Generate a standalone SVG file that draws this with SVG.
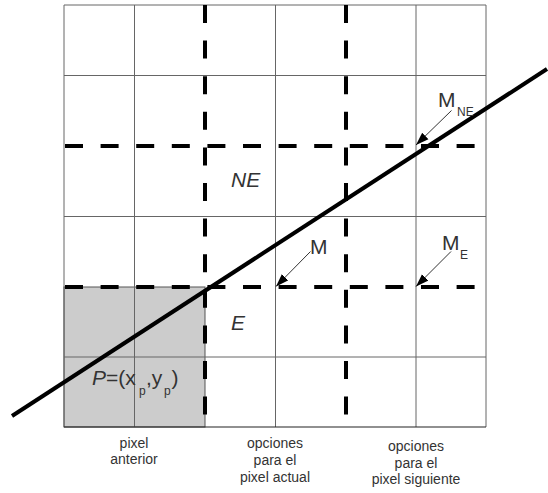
<svg xmlns="http://www.w3.org/2000/svg" width="548" height="493" viewBox="0 0 548 493">
<style>
.grid{stroke:#666;stroke-width:1;fill:none}
.dash{stroke:#000;stroke-width:4;stroke-dasharray:18 17.6;fill:none}
.lbl{font-family:"Liberation Sans",Arial,sans-serif;fill:#333}
.big{font-size:21px}
.sub{font-size:12px}
.cap{font-size:14px;text-anchor:middle}
.arr{stroke:#333;stroke-width:1;fill:none}
</style>
<defs>
<marker id="ah" markerUnits="userSpaceOnUse" markerWidth="14" markerHeight="10" refX="13" refY="5" orient="auto">
<path d="M0,0.5 L13,5 L0,9.5 Z" fill="#000"/>
</marker>
</defs>
<rect width="548" height="493" fill="#fff"/>
<g id="shaded">
<rect x="64" y="287" width="141" height="140" fill="#cccccc" stroke="#555" stroke-width="1"/>
</g>
<g id="grid">
<path class="grid" d="M64,5 V427 M134.5,5 V427 M275.5,5 V427 M416,5 V427 M486,5 V427 M64,5 H486 M64,75.5 H486 M64,216.5 H486 M64,357 H486"/>
<path d="M64,427 H486" stroke="#222" stroke-width="1.2"/>
</g>
<g id="connectors">
<path class="dash" d="M205,5 V427"/>
<path class="dash" d="M346,5 V427"/>
<path class="dash" d="M65,146 H486"/>
<path class="dash" d="M65,287 H486"/>
<path d="M12,416 L547,69" stroke="#000" stroke-width="4" fill="none"/>
<path class="arr" d="M451.5,110.5 L416,145" marker-end="url(#ah)"/>
<path class="arr" d="M310.5,251.5 L276,286.5" marker-end="url(#ah)"/>
<path class="arr" d="M451,251.5 L416,286.5" marker-end="url(#ah)"/>
</g>
<g id="labels">
<text class="lbl big" x="231" y="187" font-style="italic">NE</text>
<text class="lbl big" x="231" y="329.5" font-style="italic">E</text>
<text class="lbl big" x="310" y="254">M</text>
<g id="mne"><text class="lbl big" x="438" y="107">M</text><text class="lbl sub" x="457" y="116">NE</text></g>
<g id="me"><text class="lbl big" x="442" y="249.5">M</text><text class="lbl sub" x="460" y="259">E</text></g>
<g id="p"><text class="lbl big" x="92" y="385"><tspan font-style="italic">P</tspan>=(x<tspan class="sub" x="139" y="395">p</tspan><tspan x="146" y="385">,y</tspan><tspan class="sub" x="164" y="395">p</tspan><tspan x="171.5" y="385">)</tspan></text></g>
</g>
<g id="captions">
<text class="lbl cap" x="134" y="448">pixel</text>
<text class="lbl cap" x="134" y="464">anterior</text>
<text class="lbl cap" x="275" y="448">opciones</text>
<text class="lbl cap" x="275" y="465">para el</text>
<text class="lbl cap" x="275" y="482">pixel actual</text>
<text class="lbl cap" x="416" y="451">opciones</text>
<text class="lbl cap" x="416" y="468">para el</text>
<text class="lbl cap" x="416" y="484">pixel siguiente</text>
</g>
</svg>
